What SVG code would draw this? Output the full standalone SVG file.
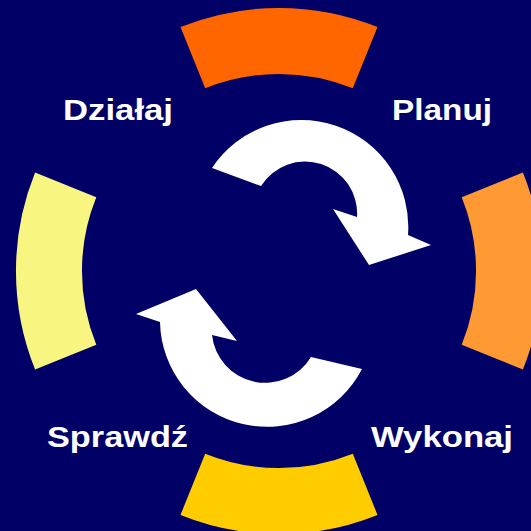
<svg xmlns="http://www.w3.org/2000/svg" width="531" height="531" viewBox="0 0 531 531">
  <style>
    .lbl { font-family: "Liberation Sans", Arial, sans-serif; font-weight: bold; font-size: 30px; fill: #FFFFFF; }
    .arrow { fill: #FFFFFF; }
  </style>
  <defs>
    <path id="seg" d="M 180.5 27.1 A 263 263 0 0 1 377.5 27.1 L 352.8 88.3 A 197 197 0 0 0 205.2 88.3 Z"/>
  </defs>
  <rect x="0" y="0" width="531" height="531" fill="#000066"/>
  <g id="segments">
    <g id="seg-plan"><use href="#seg" fill="#FF6600"/></g>
    <g id="seg-do"><use href="#seg" fill="#FF9933" transform="rotate(90 279 271)"/></g>
    <g id="seg-check"><use href="#seg" fill="#FFCC00" transform="rotate(180 279 271)"/></g>
    <g id="seg-act"><use href="#seg" fill="#F8F580" transform="rotate(270 279 271)"/></g>
  </g>
  <g id="connectors">
    <path id="arrow-upper" class="arrow" d="M 212 168 L 261 186 A 52 52 0 0 1 357 217 L 333 209 L 369 265 L 431 245 L 408 235 A 107 107 0 0 0 212 168 Z"/>
    <path id="arrow-lower" class="arrow" d="M 362 369 L 311 357 A 53.5 53.5 0 0 1 212 335 L 237 341 L 196 289 L 136 314 L 160 322 A 107 107 0 0 0 362 369 Z"/>
  </g>
  <g id="node-dzialaj"><text class="lbl" x="63" y="120" textLength="110" lengthAdjust="spacingAndGlyphs">Działaj</text></g>
  <g id="node-planuj"><text class="lbl" x="392" y="120" textLength="100" lengthAdjust="spacingAndGlyphs">Planuj</text></g>
  <g id="node-sprawdz"><text class="lbl" x="47" y="447" textLength="141" lengthAdjust="spacingAndGlyphs">Sprawdź</text></g>
  <g id="node-wykonaj"><text class="lbl" x="371" y="447" textLength="142" lengthAdjust="spacingAndGlyphs">Wykonaj</text></g>
</svg>
